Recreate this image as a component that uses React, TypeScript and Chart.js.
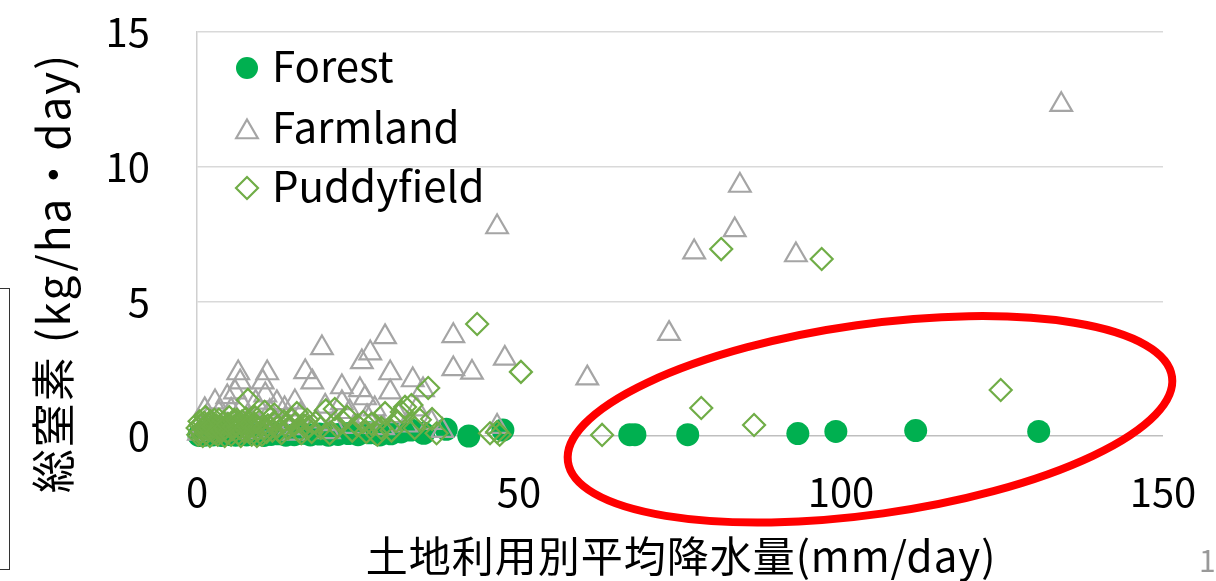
import React, { useEffect, useRef } from "react";
import { Chart, registerables } from "chart.js";

Chart.register(...registerables);

// ---- Data (x: 土地利用別平均降水量 mm/day, y: 総窒素 kg/ha・day) ----
const seriesNames = ["Forest", "Farmland", "Puddyfield"];

const forestPoints: [number, number][] = [
  [0.3, 0.02], [0.8, 0.05], [1.2, 0.03], [1.9, 0.08], [2.5, 0.04], [3.1, 0.06], [3.8, 0.02],
  [4.4, 0.09], [5.2, 0.05], [6.0, 0.03], [6.9, 0.07], [7.7, 0.04], [8.6, 0.1], [9.5, 0.05],
  [10.4, 0.02], [11.5, 0.06], [12.6, 0.08], [13.8, 0.03], [15.1, 0.05], [16.3, 0.1], [17.6, 0.04],
  [19.0, 0.07], [20.4, 0.03], [21.9, 0.06], [23.5, 0.09], [25.0, 0.05], [26.8, 0.12], [28.4, 0.04],
  [30.1, 0.08], [31.7, 0.15], [33.2, 0.22], [35.2, 0.1], [38.7, 0.25], [42.2, 0.0], [47.5, 0.22],
  [67.2, 0.05], [68.0, 0.05], [76.2, 0.05], [93.3, 0.09], [99.2, 0.17], [111.6, 0.2], [130.7, 0.17],
];

const farmlandPoints: [number, number][] = [
  [134.2, 12.3], [84.3, 9.3], [83.5, 7.65], [77.2, 6.83], [93.0, 6.72], [46.6, 7.76], [73.3, 3.8],
  [60.6, 2.15], [47.8, 2.88], [42.7, 2.36], [39.8, 2.49], [39.8, 3.72], [46.6, 0.35],
  [19.4, 3.27], [29.2, 3.68], [26.9, 3.08], [25.6, 2.75], [16.8, 2.38], [17.9, 2.0], [22.5, 1.82],
  [30.0, 2.34], [30.0, 1.63], [25.3, 1.71], [26.1, 1.41], [33.5, 2.08], [22.5, 1.23], [26.4, 0.71],
  [35.1, 1.71], [6.4, 2.34], [10.9, 2.34], [6.7, 2.0], [10.2, 2.0], [4.7, 1.45], [2.8, 1.26],
  [5.9, 1.63], [10.6, 1.52], [12.4, 1.23], [1.2, 0.97], [15.2, 1.26],
  [0.3, 0.1], [0.9, 0.35], [1.6, 0.6], [2.2, 0.2], [3.4, 0.85], [4.1, 0.45], [5.3, 0.95],
  [7.1, 1.1], [8.0, 0.6], [9.1, 1.25], [9.7, 0.4], [11.3, 0.9], [12.8, 0.5], [13.6, 1.0],
  [14.4, 0.3], [16.1, 0.8], [18.6, 0.55], [19.9, 1.1], [21.1, 0.45], [23.7, 0.9], [24.4, 0.35],
  [27.6, 1.0], [28.9, 0.3], [31.3, 0.75], [32.5, 0.4], [34.1, 1.0], [36.4, 0.5], [38.1, 0.2],
  [20.5, 0.15], [15.0, 0.1], [8.8, 0.15],
];

const puddyfieldPoints: [number, number][] = [
  [124.8, 1.71], [97.0, 6.57], [81.4, 6.94], [78.3, 1.04], [86.5, 0.41], [62.9, 0.04],
  [43.5, 4.16], [50.3, 2.38], [35.9, 1.78], [36.5, 0.63], [45.5, 0.1], [46.6, 0.15], [47.0, 0.05],
  [7.9, 1.34], [29.2, 0.85], [31.8, 0.89], [32.3, 1.08], [33.3, 1.15], [21.4, 1.0], [23.3, 0.71],
  [17.1, 0.6], [15.5, 0.85], [25.8, 0.52], [28.0, 0.05], [20.0, 0.95], [12.0, 0.8], [13.5, 0.55],
  [10.5, 0.9], [9.0, 0.7],
  [0.2, 0.05], [0.6, 0.15], [1.0, 0.3], [1.4, 0.1], [1.8, 0.45], [2.3, 0.2], [2.7, 0.6],
  [3.2, 0.05], [3.6, 0.35], [4.1, 0.5], [4.6, 0.15], [5.0, 0.7], [5.5, 0.25], [6.0, 0.4],
  [6.5, 0.1], [7.0, 0.55], [7.5, 0.3], [8.2, 0.15], [8.8, 0.45], [9.5, 0.25], [10.1, 0.05],
  [11.0, 0.4], [11.7, 0.2], [12.5, 0.35], [13.1, 0.1], [14.2, 0.3], [14.8, 0.6], [15.9, 0.2],
  [16.6, 0.4], [17.8, 0.15], [18.4, 0.5], [19.2, 0.3], [20.6, 0.1], [21.8, 0.35], [22.6, 0.55],
  [24.1, 0.2], [24.9, 0.4], [26.3, 0.15], [27.1, 0.45], [28.6, 0.3], [30.2, 0.2], [30.9, 0.55],
  [33.8, 0.3], [34.6, 0.6], [37.2, 0.1], [0.4, 0.55], [1.3, 0.7], [2.0, 0.0], [3.0, 0.4],
  [4.3, 0.0], [5.8, 0.6], [6.8, 0.0], [7.8, 0.5], [9.3, 0.0], [11.4, 0.65],
  [0.1, 0.3], [0.5, 0.4], [0.9, 0.0], [1.1, 0.5], [1.6, 0.25], [2.1, 0.55], [2.5, 0.35],
  [2.9, 0.1], [3.4, 0.6], [3.9, 0.2], [4.4, 0.3], [4.8, 0.45], [5.3, 0.05], [5.7, 0.35],
  [6.2, 0.6], [6.6, 0.3], [7.2, 0.2], [7.6, 0.65], [8.0, 0.35], [8.5, 0.05], [9.1, 0.35],
  [9.7, 0.55], [10.4, 0.3], [10.8, 0.15], [11.9, 0.5], [12.8, 0.2], [13.7, 0.4], [15.2, 0.45],
  [16.2, 0.1], [17.4, 0.35],
];

const xTicks = [0, 50, 100, 150];
const yTicks = [0, 5, 10, 15];
const xTitle = "土地利用別平均降水量(mm/day)";
const yTitle = "総窒素 (kg/ha・day)";

// annotation ellipse centre (data units)
const ellipseCenter = { x: 104.5, y: 0.62 };

const FONT = '"Noto Sans CJK JP", "Noto Sans", sans-serif';
const COLORS = { forest: "#00B050", farmland: "#A5A5A5", puddy: "#70AD47" };

function drawMarker(ctx: CanvasRenderingContext2D, kind: number, x: number, y: number) {
  ctx.save();
  ctx.beginPath();
  if (kind === 0) {
    ctx.arc(x, y, 11, 0, Math.PI * 2);
    ctx.fillStyle = COLORS.forest;
    ctx.fill();
  } else if (kind === 1) {
    const r = 12.5;
    ctx.moveTo(x, y - r);
    ctx.lineTo(x + r * Math.sin((2 * Math.PI) / 3), y + r / 2);
    ctx.lineTo(x - r * Math.sin((2 * Math.PI) / 3), y + r / 2);
    ctx.closePath();
    ctx.strokeStyle = COLORS.farmland;
    ctx.lineWidth = 2.2;
    ctx.stroke();
  } else {
    const r = 11;
    ctx.moveTo(x - r, y);
    ctx.lineTo(x, y - r);
    ctx.lineTo(x + r, y);
    ctx.lineTo(x, y + r);
    ctx.closePath();
    ctx.strokeStyle = COLORS.puddy;
    ctx.lineWidth = 2.2;
    ctx.stroke();
  }
  ctx.restore();
}

const overlayPlugin = {
  id: "overlay",
  afterDatasetsDraw(chart: any) {
    const { ctx } = chart;
    const xs = chart.scales.x;
    const ys = chart.scales.y;
    ctx.save();
    ctx.beginPath();
    ctx.ellipse(
      xs.getPixelForValue(ellipseCenter.x),
      ys.getPixelForValue(ellipseCenter.y),
      305,
      95,
      (-8 * Math.PI) / 180,
      0,
      Math.PI * 2
    );
    ctx.strokeStyle = "#FF0000";
    ctx.lineWidth = 8;
    ctx.stroke();
    ctx.restore();
  },
  afterDraw(chart: any) {
    const { ctx, chartArea } = chart;
    // legend
    const rows = [66, 127, 186];
    ctx.save();
    seriesNames.forEach((name, i) => {
      const cy = chartArea.top + rows[i] - 32;
      drawMarker(ctx, i, chartArea.left + 50, i === 1 ? cy + 5 : cy + 2);
      ctx.fillStyle = "#000";
      ctx.font = `42px ${FONT}`;
      ctx.textAlign = "left";
      ctx.textBaseline = "middle";
      ctx.fillText(name, chartArea.left + 75, cy);
    });
    ctx.restore();

    // x title
    ctx.save();
    ctx.fillStyle = "#000";
    ctx.font = `42px ${FONT}`;
    ctx.textAlign = "center";
    ctx.textBaseline = "middle";
    try { (ctx as any).letterSpacing = "1px"; } catch (e) {}
    ctx.fillText(xTitle, 681, 556);
    ctx.restore();

    // y title
    ctx.save();
    ctx.fillStyle = "#000";
    ctx.font = `44px ${FONT}`;
    ctx.translate(53, 273);
    ctx.rotate(-Math.PI / 2);
    ctx.textAlign = "center";
    ctx.textBaseline = "middle";
    try { (ctx as any).letterSpacing = "2px"; } catch (e) {}
    ctx.fillText(yTitle, 0, 0);
    ctx.restore();
  },
};

export default function App() {
  const ref = useRef<HTMLCanvasElement | null>(null);

  useEffect(() => {
    if (!ref.current) return;
    const toXY = (a: [number, number][]) => a.map(([x, y]) => ({ x, y }));
    const chart = new Chart(ref.current, {
      type: "scatter",
      data: {
        datasets: [
          {
            label: seriesNames[2],
            data: toXY(puddyfieldPoints),
            pointStyle: "rectRot",
            pointRadius: 11,
            pointBackgroundColor: "rgba(0,0,0,0)",
            pointBorderColor: COLORS.puddy,
            pointBorderWidth: 2.2,
            clip: false,
            order: 0,
          },
          {
            label: seriesNames[1],
            data: toXY(farmlandPoints),
            pointStyle: "triangle",
            pointRadius: 12.5,
            pointBackgroundColor: "rgba(0,0,0,0)",
            pointBorderColor: COLORS.farmland,
            pointBorderWidth: 2.2,
            clip: false,
            order: 1,
          },
          {
            label: seriesNames[0],
            data: toXY(forestPoints),
            pointStyle: "circle",
            pointRadius: 11.5,
            pointBackgroundColor: COLORS.forest,
            pointBorderColor: COLORS.forest,
            pointBorderWidth: 0,
            clip: false,
            order: 2,
          },
        ] as any,
      },
      options: {
        animation: false,
        responsive: false,
        maintainAspectRatio: false,
        events: [],
        layout: { padding: { left: 0, right: 53, top: 32, bottom: 0 } },
        plugins: { legend: { display: false }, tooltip: { enabled: false } },
        scales: {
          x: {
            type: "linear",
            min: 0,
            max: 150,
            afterBuildTicks: (s: any) => {
              s.ticks = xTicks.map((v) => ({ value: v }));
            },
            ticks: { font: { family: FONT, size: 40 }, color: "#000", padding: 32, maxRotation: 0 },
            grid: { display: false, drawTicks: false },
            border: { display: false },
            afterFit: (s: any) => {
              s.height = 145;
              s.paddingLeft = 0;
              s.paddingRight = 0;
            },
          },
          y: {
            type: "linear",
            min: 0,
            max: 15,
            afterBuildTicks: (s: any) => {
              s.ticks = yTicks.map((v) => ({ value: v }));
            },
            ticks: { font: { family: FONT, size: 40 }, color: "#000", padding: 47 },
            grid: {
              drawTicks: false,
              lineWidth: 1.5,
              color: (c: any) => (c.tick && c.tick.value === 0 ? "#BFBFBF" : "#D9D9D9"),
            },
            border: { display: true, color: "#D0D0D0", width: 1.5 },
            afterFit: (s: any) => {
              s.width = 197;
              s.paddingTop = 0;
              s.paddingBottom = 0;
            },
          },
        },
      } as any,
      plugins: [overlayPlugin],
    });
    return () => chart.destroy();
  }, []);

  return (
    <div
      style={{
        position: "fixed",
        left: 0,
        top: 0,
        width: 1216,
        height: 581,
        background: "#fff",
        overflow: "hidden",
      }}
    >
      <canvas ref={ref} width={1216} height={581} style={{ display: "block", width: 1216, height: 581 }} />
      <div
        style={{
          position: "absolute",
          left: -10,
          top: 288,
          width: 20,
          height: 282,
          border: "1.5px solid #333",
          borderLeft: "none",
          boxSizing: "border-box",
        }}
      />
      <div
        style={{
          position: "absolute",
          left: 1199,
          top: 541,
          fontFamily: FONT,
          fontSize: 30,
          color: "#999",
          lineHeight: "36px",
          whiteSpace: "nowrap",
        }}
      >
        17
      </div>
    </div>
  );
}
